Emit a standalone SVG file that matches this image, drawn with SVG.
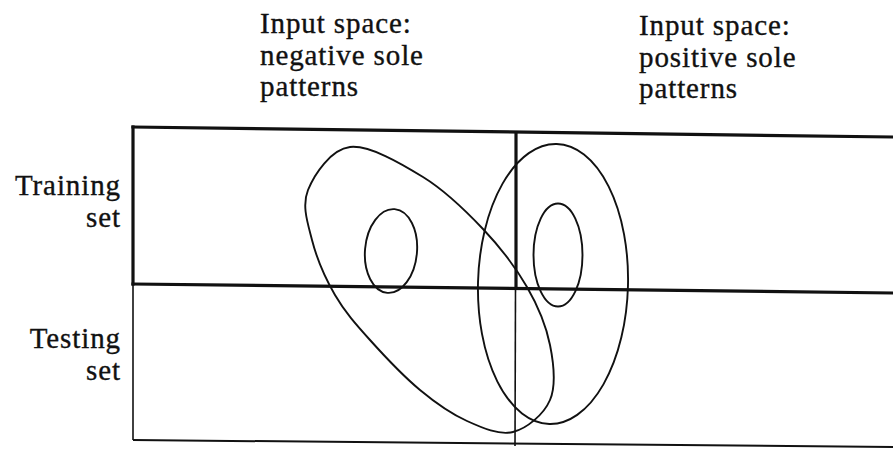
<svg xmlns="http://www.w3.org/2000/svg" width="893" height="449" viewBox="0 0 893 449">
<style>
text{font-family:"Liberation Serif","Times New Roman",serif;font-size:29px;letter-spacing:0.9px;fill:#111;stroke:#111;stroke-width:0.35}
.thick{stroke:#111;stroke-width:3.2;fill:none;stroke-linecap:square}
.thin{stroke:#111;stroke-width:1.6;fill:none}
.curve{stroke:#111;stroke-width:1.9;fill:none}
</style>
<rect width="893" height="449" fill="#fff"/>
<g id="frame">
<line class="thick" x1="133" y1="127" x2="893" y2="137"/>
<line class="thick" x1="133" y1="127" x2="133" y2="284"/>
<line class="thin" x1="133" y1="284" x2="133" y2="440"/>
<line class="thick" x1="133" y1="284" x2="893" y2="293"/>
<line class="thick" x1="516" y1="133" x2="516" y2="288"/>
<line class="thin" x1="515.5" y1="288" x2="515" y2="446"/>
<line class="thin" style="stroke-width:2" x1="133" y1="440" x2="893" y2="447"/>
</g>
<g id="labels">
<text x="260" y="33">Input space:</text>
<text x="260" y="65">negative sole</text>
<text x="260" y="96">patterns</text>
<text x="639" y="35">Input space:</text>
<text x="639" y="67">positive sole</text>
<text x="639" y="98">patterns</text>
<text x="121" y="195" text-anchor="end">Training</text>
<text x="121" y="227" text-anchor="end">set</text>
<text x="121" y="348" text-anchor="end">Testing</text>
<text x="121" y="380" text-anchor="end">set</text>
</g>
<g id="negative-region">
<path class="curve" d="M350,147 C369.2,144.8 400.8,163.3 423,177 C445.2,190.7 465.7,210.7 483,229 C500.3,247.3 515.8,267.7 527,287 C538.2,306.3 546.2,326.2 550,345 C553.8,363.8 556.2,385.5 550,400 C543.8,414.5 526.8,428.5 513,432 C499.2,435.5 482.5,428 467,421 C451.5,414 436.2,403.5 420,390 C403.8,376.5 384.2,355.8 370,340 C355.8,324.2 344.7,311.7 335,295 C325.3,278.3 316.5,257.5 312,240 C307.5,222.5 301.7,205.5 308,190 C314.3,174.5 330.8,149.2 350,147 Z"/>
<ellipse class="curve" cx="391" cy="251" rx="26" ry="42" transform="rotate(5 391 251)"/>
</g>
<g id="positive-region">
<ellipse class="curve" cx="553" cy="284" rx="75" ry="140" transform="rotate(1.5 553 284)"/>
<ellipse class="curve" cx="558" cy="255" rx="24.5" ry="51.5"/>
</g>
</svg>
